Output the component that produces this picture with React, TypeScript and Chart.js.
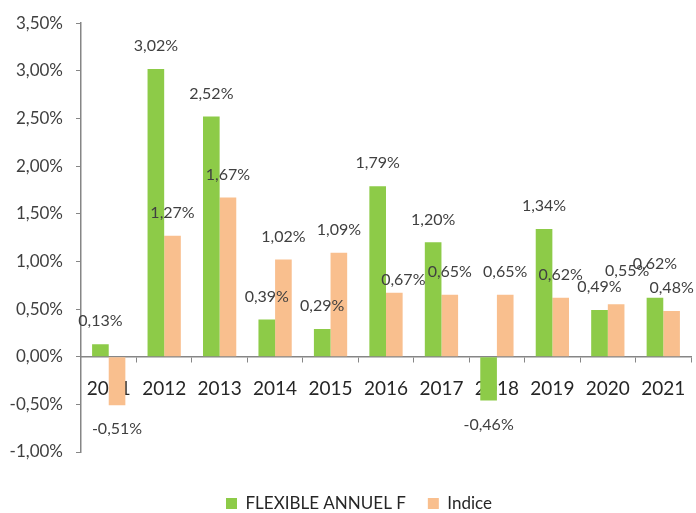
import React, { useEffect, useRef } from 'react';
import { Chart, registerables } from 'chart.js';

Chart.register(...registerables);

const years = ['2011', '2012', '2013', '2014', '2015', '2016', '2017', '2018', '2019', '2020', '2021'];
const flexibleValues = [0.13, 3.02, 2.52, 0.39, 0.29, 1.79, 1.2, -0.46, 1.34, 0.49, 0.62];
const indiceValues = [-0.51, 1.27, 1.67, 1.02, 1.09, 0.67, 0.65, 0.65, 0.62, 0.55, 0.48];
const seriesNames = ['FLEXIBLE ANNUEL F', 'Indice'];
const yMin = -1;
const yMax = 3.5;
const yStep = 0.5;

// manual label nudges (dx, dy in px) for a few labels moved in the original
const labelNudges: Record<string, [number, number]> = {
  '1-5': [9, 10],
  '1-9': [11, -10],
  '0-10': [0, -11],
};

const GREEN = '#8DCB48';
const ORANGE = '#F9BF8E';
const FONT = 'Lato, "Open Sans", sans-serif';

const fmt = (v: number) => v.toFixed(2).replace('.', ',') + '%';

const valueLabels = {
  id: 'valueLabels',
  afterDatasetsDraw(chart: any) {
    const ctx = chart.ctx;
    ctx.save();
    ctx.font = `16px ${FONT}`;
    ctx.fillStyle = '#404040';
    ctx.textAlign = 'center';
    ctx.textBaseline = 'middle';
    chart.data.datasets.forEach((ds: any, di: number) => {
      const meta = chart.getDatasetMeta(di);
      meta.data.forEach((el: any, i: number) => {
        const v = ds.data[i] as number;
        const n = labelNudges[`${di}-${i}`] || [0, 0];
        const y = v >= 0 ? el.y - 23 : el.y + 24;
        ctx.fillText(fmt(v), el.x + n[0], y + n[1]);
      });
    });
    ctx.restore();
  },
};

export default function App() {
  const ref = useRef<HTMLCanvasElement | null>(null);

  useEffect(() => {
    document.body.style.margin = '0';
    if (!ref.current) return;
    const chart = new Chart(ref.current, {
      type: 'bar',
      data: {
        labels: years,
        datasets: [
          {
            label: seriesNames[0],
            data: flexibleValues,
            backgroundColor: GREEN,
            categoryPercentage: 0.6,
            barPercentage: 1,
          },
          {
            label: seriesNames[1],
            data: indiceValues,
            backgroundColor: ORANGE,
            categoryPercentage: 0.6,
            barPercentage: 1,
          },
        ],
      },
      options: {
        responsive: false,
        animation: false,
        layout: { padding: { top: 22, right: 5, bottom: 0, left: 27 } },
        plugins: {
          tooltip: { enabled: false },
          legend: {
            position: 'bottom',
            maxHeight: 61,
            title: { display: true, text: '', font: { size: 10 }, padding: { top: 0, bottom: 9 } },
            labels: {
              boxWidth: 11,
              boxHeight: 11,
              padding: 22,
              color: '#262626',
              font: { family: FONT, size: 17 },
            },
          },
        },
        scales: {
          x: {
            position: { y: 0 } as any,
            afterFit: (scale: any) => {
              scale.paddingLeft = 0;
              scale.paddingRight = 0;
            },
            grid: {
              display: true,
              drawOnChartArea: false,
              drawTicks: true,
              tickLength: 5,
              color: '#868686',
              offset: true,
            },
            border: { color: '#868686', width: 1.5 },
            ticks: {
              color: '#262626',
              padding: 16,
              font: { family: FONT, size: 19 },
              maxRotation: 0,
            },
          },
          y: {
            min: yMin,
            max: yMax,
            afterFit: (scale: any) => {
              scale.width = 54;
              scale._computeLabelArea = () => undefined;
            },
            grid: {
              drawOnChartArea: false,
              drawTicks: true,
              tickLength: 5,
              color: '#868686',
            },
            border: { color: '#868686', width: 1.5 },
            ticks: {
              stepSize: yStep,
              color: '#404040',
              padding: 13,
              font: { family: FONT, size: 17 },
              callback: (v: any) => fmt(Number(v)),
            },
          },
        },
      },
      plugins: [valueLabels],
    });
    return () => chart.destroy();
  }, []);

  return (
    <div style={{ position: 'absolute', left: 0, top: 0, width: 696, height: 513 }}>
      <canvas ref={ref} width={696} height={513} style={{ display: 'block' }} />
    </div>
  );
}
